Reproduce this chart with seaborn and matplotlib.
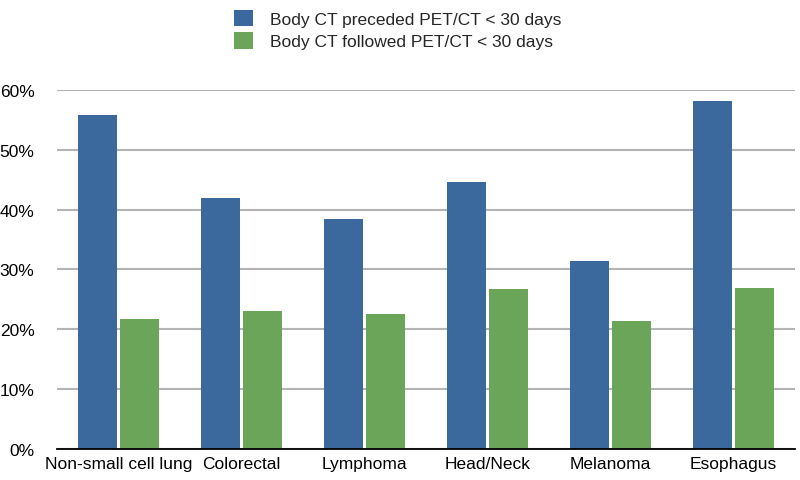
import pandas as pd
import matplotlib
matplotlib.use("Agg")
import matplotlib.pyplot as plt
import seaborn as sns
from matplotlib.ticker import PercentFormatter
from matplotlib.patches import Patch

# values (fraction of patients)
cancers = ["Non-small cell lung", "Colorectal", "Lymphoma", "Head/Neck", "Melanoma", "Esophagus"]
preceded = [0.558, 0.420, 0.385, 0.446, 0.314, 0.582]
followed = [0.217, 0.231, 0.226, 0.267, 0.214, 0.269]
series = ["Body CT preceded PET/CT < 30 days", "Body CT followed PET/CT < 30 days"]
colors = ["#3b699d", "#6ba55a"]


def build_frame():
    rows = []
    for c, p, f in zip(cancers, preceded, followed):
        rows.append({"cancer": c, "series": series[0], "value": p})
        rows.append({"cancer": c, "series": series[1], "value": f})
    return pd.DataFrame(rows)


def plot_chart(df, output_file):
    sns.set_style("white")
    plt.rcParams["font.family"] = ["Liberation Sans", "DejaVu Sans"]

    fig = plt.figure(figsize=(8, 4.81), dpi=100)
    ax = fig.add_axes([0.071, 0.0644, 0.923, 0.7466])

    sns.barplot(
        data=df, x="cancer", y="value", hue="series",
        palette=colors, saturation=1, width=0.68, gap=0.07,
        edgecolor="none", ax=ax, legend=False
    )

    ax.set_ylim(0, 0.6)
    ax.set_xlim(-0.5, len(cancers) - 0.5)
    ax.yaxis.set_major_formatter(PercentFormatter(1.0, decimals=0))
    ax.set_yticks([0, 0.1, 0.2, 0.3, 0.4, 0.5, 0.6])
    ax.yaxis.grid(True, color="#b4b4b4", linewidth=1.5)
    ax.set_axisbelow(True)
    for side in ["left", "right", "top"]:
        ax.spines[side].set_visible(False)
    ax.spines["bottom"].set_color("black")
    ax.spines["bottom"].set_linewidth(1.3)
    ax.tick_params(axis="both", length=0, labelsize=12.5, colors="black")
    ax.tick_params(axis="y", pad=16)
    ax.tick_params(axis="x", pad=5)
    ax.set_xlabel("")
    ax.set_ylabel("")

    handles = [Patch(facecolor=c, edgecolor="none") for c in colors]
    fig.legend(
        handles, series, loc="upper center", bbox_to_anchor=(0.497, 1.01),
        frameon=False, fontsize=12.5, handlelength=1.1, handleheight=1.1,
        handletextpad=1.0, labelspacing=0.3
    )

    fig.savefig(output_file, dpi=100)


if __name__ == "__main__":
    df = build_frame()
    plot_chart(df, "out.png")
